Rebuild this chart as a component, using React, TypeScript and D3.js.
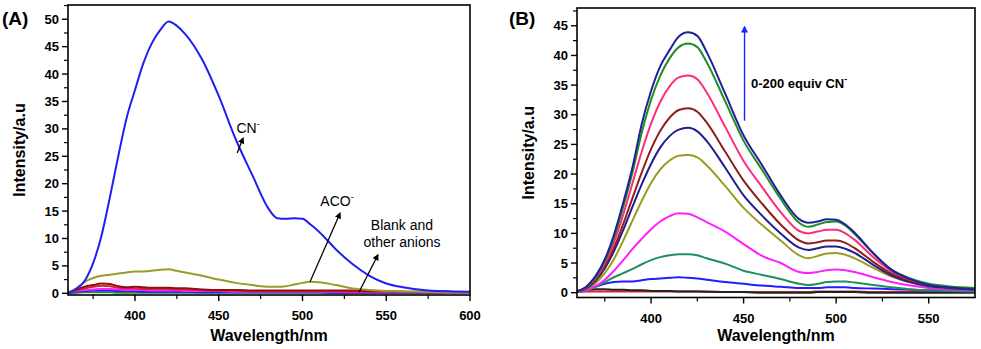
import React from "react";
import * as d3 from "d3";

// wavelength grids (nm)
const wavesA = [360, 365, 370, 375, 380, 385, 390, 395, 400, 405, 410, 415, 420, 425, 430, 440, 450, 460, 470, 480, 485, 490, 495, 500, 505, 510, 520, 530, 540, 550, 560, 575, 590, 600];
const wavesB = [360, 365, 370, 375, 380, 385, 390, 395, 400, 405, 410, 415, 420, 425, 430, 440, 450, 460, 470, 480, 485, 490, 495, 500, 505, 510, 520, 530, 540, 550, 560, 575];

// panel A: anion screening
const cnA = [0, 0.8, 2.3, 5.5, 10.5, 17.5, 25.0, 32.0, 37.1, 42.0, 45.6, 48.0, 49.6, 48.8, 47.3, 42.7, 36.0, 28.2, 21.6, 15.3, 13.7, 13.6, 13.7, 13.6, 12.5, 11.2, 8.0, 5.3, 3.2, 1.8, 1.1, 0.5, 0.35, 0.3];
const acoA = [0, 0.9, 2.1, 2.8, 3.2, 3.4, 3.6, 3.8, 4.0, 4.0, 4.1, 4.3, 4.4, 4.1, 3.8, 3.2, 2.5, 1.9, 1.5, 1.2, 1.2, 1.3, 1.6, 1.9, 2.1, 2.0, 1.5, 0.9, 0.6, 0.4, 0.3, 0.25, 0.15, 0.1];
const otherA1 = [0.2, 0.7, 1.2, 1.5, 1.8, 1.7, 1.3, 1.1, 1.2, 1.1, 1.0, 1.0, 1.0, 0.9, 0.9, 0.7, 0.6, 0.6, 0.5, 0.5, 0.5, 0.5, 0.5, 0.5, 0.5, 0.5, 0.5, 0.5, 0.4, 0.4, 0.3, 0.3, 0.25, 0.2];
const otherA2 = [0.1, 0.5, 0.9, 1.2, 1.4, 1.3, 1.0, 0.9, 0.9, 0.8, 0.8, 0.8, 0.8, 0.7, 0.7, 0.6, 0.5, 0.5, 0.4, 0.4, 0.4, 0.4, 0.4, 0.4, 0.4, 0.4, 0.4, 0.3, 0.3, 0.3, 0.3, 0.2, 0.2, 0.2];
const otherA3 = [0.1, 0.4, 0.6, 0.7, 0.8, 0.8, 0.7, 0.6, 0.6, 0.6, 0.5, 0.5, 0.5, 0.5, 0.4, 0.4, 0.4, 0.3, 0.3, 0.3, 0.3, 0.3, 0.3, 0.3, 0.3, 0.3, 0.3, 0.2, 0.2, 0.2, 0.2, 0.2, 0.1, 0.1];
const otherA4 = [0.1, 0.3, 0.4, 0.5, 0.5, 0.5, 0.4, 0.4, 0.4, 0.3, 0.3, 0.3, 0.3, 0.3, 0.3, 0.2, 0.2, 0.2, 0.2, 0.2, 0.2, 0.2, 0.2, 0.2, 0.2, 0.2, 0.1, 0.1, 0.1, 0.1, 0.1, 0.1, 0.1, 0.1];
const otherA5 = [0, 0.1, 0.2, 0.2, 0.2, 0.2, 0.1, 0.1, 0.1, 0.1, 0.1, 0.1, 0.1, 0.1, 0.1, 0.1, 0.1, 0.1, 0.1, 0.1, 0.1, 0.1, 0.1, 0.1, 0.1, 0.1, 0.05, 0.05, 0.05, 0.05, 0.05, 0.05, 0.05, 0.05];

// panel B: CN- titration, 0-200 equiv
const eq200 = [0.2, 1.0, 2.8, 5.6, 9.8, 15.2, 21.2, 28.5, 34.0, 38.2, 40.9, 43.2, 43.9, 43.3, 40.6, 33.6, 26.5, 21.5, 16.4, 12.4, 11.8, 12.0, 12.4, 12.3, 11.5, 10.1, 6.7, 3.8, 2.3, 1.3, 0.9, 0.55];
const eq175 = [0.2, 0.9, 2.6, 5.3, 9.3, 14.5, 20.3, 27.0, 32.5, 36.6, 39.5, 41.4, 42.0, 41.4, 38.9, 32.3, 25.6, 20.7, 15.8, 11.8, 11.1, 11.5, 11.9, 12.0, 11.3, 9.9, 6.6, 3.9, 2.4, 1.5, 1.1, 0.8];
const eq150 = [0.2, 0.9, 2.4, 4.9, 8.5, 13.2, 18.5, 23.8, 28.5, 32.2, 34.8, 36.3, 36.6, 36.0, 33.8, 28.0, 22.2, 17.8, 13.6, 10.4, 10.0, 10.3, 10.6, 10.6, 10.0, 8.9, 6.0, 3.6, 2.2, 1.4, 1.0, 0.6];
const eq125 = [0.2, 0.8, 2.2, 4.5, 7.6, 11.6, 16.0, 20.3, 24.2, 27.3, 29.5, 30.8, 31.1, 30.5, 28.7, 23.8, 18.9, 15.0, 11.5, 8.8, 8.3, 8.5, 8.8, 8.8, 8.4, 7.5, 5.2, 3.2, 2.0, 1.3, 0.9, 0.6];
const eq100 = [0.2, 0.7, 2.0, 4.1, 7.0, 10.6, 14.5, 18.3, 21.7, 24.5, 26.4, 27.5, 27.8, 27.2, 25.6, 21.1, 16.4, 13.0, 10.0, 7.6, 7.2, 7.5, 7.8, 7.8, 7.4, 6.7, 4.7, 2.9, 1.8, 1.1, 0.8, 0.5];
const eq75 = [0.2, 0.6, 1.6, 3.3, 5.7, 8.8, 12.2, 15.5, 18.5, 20.8, 22.3, 23.1, 23.2, 22.8, 21.5, 18.0, 14.3, 11.4, 8.8, 6.3, 5.8, 6.2, 6.6, 6.7, 6.4, 5.8, 4.2, 2.7, 1.7, 1.1, 0.8, 0.5];
const eq50 = [0.1, 0.4, 1.1, 2.2, 3.7, 5.5, 7.4, 9.1, 10.7, 12.0, 12.9, 13.4, 13.3, 12.7, 11.9, 10.3, 8.2, 6.2, 5.0, 3.5, 3.3, 3.5, 3.8, 3.9, 3.8, 3.5, 2.6, 1.8, 1.2, 0.8, 0.6, 0.4];
const eq25 = [0.1, 0.4, 1.0, 1.8, 2.6, 3.3, 4.0, 4.8, 5.5, 6.0, 6.3, 6.5, 6.5, 6.3, 5.8, 4.9, 3.7, 3.0, 2.3, 1.5, 1.3, 1.5, 1.8, 1.9, 1.9, 1.7, 1.3, 0.9, 0.6, 0.4, 0.3, 0.2];
const eq10 = [0.1, 0.5, 1.0, 1.5, 1.8, 1.9, 1.9, 2.1, 2.3, 2.4, 2.5, 2.6, 2.5, 2.4, 2.2, 1.8, 1.5, 1.2, 1.0, 0.8, 0.8, 0.8, 0.9, 0.9, 0.9, 0.8, 0.7, 0.6, 0.5, 0.4, 0.4, 0.3];
const eq5 = [0.3, 0.5, 0.6, 0.6, 0.5, 0.5, 0.4, 0.4, 0.3, 0.3, 0.3, 0.2, 0.2, 0.2, 0.2, 0.1, 0.1, 0.0, 0.0, 0.0, 0.0, 0.1, 0.1, 0.1, 0.1, 0.1, 0.0, 0.0, 0.0, 0.0, 0.0, 0.0];
const eq0 = [0.1, 0.2, 0.2, 0.2, 0.2, 0.2, 0.2, 0.2, 0.2, 0.2, 0.2, 0.2, 0.2, 0.2, 0.1, 0.1, 0.1, 0.1, 0.1, 0.1, 0.1, 0.2, 0.2, 0.2, 0.2, 0.2, 0.1, 0.1, 0.1, 0.1, 0.1, 0.1];

const seriesA = [
  { values: otherA5, color: "#1f8f3f" },
  { values: otherA4, color: "#1f1fff" },
  { values: otherA3, color: "#ff1fff" },
  { values: otherA2, color: "#e01f3f" },
  { values: otherA1, color: "#8f1010" },
  { values: acoA, color: "#9b9b2a" },
  { values: cnA, color: "#1f1ff5" },
];

const seriesB = [
  { values: eq0, color: "#e0202a" },
  { values: eq5, color: "#222222" },
  { values: eq10, color: "#1f1fff" },
  { values: eq25, color: "#1f8f5f" },
  { values: eq50, color: "#ff1fff" },
  { values: eq75, color: "#9b9b1f" },
  { values: eq100, color: "#1f1f8f" },
  { values: eq125, color: "#8f1f1f" },
  { values: eq150, color: "#ff2d78" },
  { values: eq175, color: "#1f8f1f" },
  { values: eq200, color: "#1f1f9f" },
];

const ticksA = [400, 450, 500, 550, 600];
const minorA = [375, 425, 475, 525, 575];
const yTicksA = [0, 5, 10, 15, 20, 25, 30, 35, 40, 45, 50];
const ticksB = [400, 450, 500, 550];
const minorB = [375, 425, 475, 525];
const yTicksB = [0, 5, 10, 15, 20, 25, 30, 35, 40, 45];

const FONT = "Arial, 'Liberation Sans', sans-serif";

function Panel({ id, left, right, top, bottom, xDomain, yDomain, waves, series, xTicks, xMinor, yTicks, tag, tagX, children }) {
  const x = d3.scaleLinear().domain(xDomain).range([left, right]);
  const y = d3.scaleLinear().domain(yDomain).range([bottom, top]);
  const line = d3
    .line<number>()
    .x((_, i) => x(waves[i]))
    .y((v) => y(v))
    .curve(d3.curveMonotoneX);
  const yMinor = yTicks.slice(0, -1).map((t) => t + 2.5);
  if (yDomain[1] > yTicks[yTicks.length - 1] + 2.5) yMinor.push(yTicks[yTicks.length - 1] + 2.5);

  return (
    <g>
      <defs>
        <clipPath id={`clip-${id}`}>
          <rect x={left} y={top} width={right - left} height={bottom - top} />
        </clipPath>
      </defs>
      <g clipPath={`url(#clip-${id})`}>
        {series.map((s, i) => (
          <path key={i} d={line(s.values) || ""} fill="none" stroke={s.color} strokeWidth={2} />
        ))}
      </g>
      <rect x={left} y={top} width={right - left} height={bottom - top} fill="none" stroke="#000" strokeWidth={1.6} />
      {/* x axis */}
      {xTicks.map((t) => (
        <g key={t}>
          <line x1={x(t)} x2={x(t)} y1={bottom} y2={bottom + 6} stroke="#000" strokeWidth={1.4} />
          <text x={x(t)} y={bottom + 25} textAnchor="middle" fontSize={13} fontWeight="bold" fontFamily={FONT}>
            {t}
          </text>
        </g>
      ))}
      {xMinor.map((t) => (
        <line key={t} x1={x(t)} x2={x(t)} y1={bottom} y2={bottom + 4} stroke="#000" strokeWidth={1.2} />
      ))}
      {/* y axis */}
      {yTicks.map((t) => (
        <g key={t}>
          <line x1={left - 6} x2={left} y1={y(t)} y2={y(t)} stroke="#000" strokeWidth={1.4} />
          <text x={left - 9} y={y(t) + 4.5} textAnchor="end" fontSize={13} fontWeight="bold" fontFamily={FONT}>
            {t}
          </text>
        </g>
      ))}
      {yMinor.map((t) => (
        <line key={t} x1={left - 4} x2={left} y1={y(t)} y2={y(t)} stroke="#000" strokeWidth={1.2} />
      ))}
      <text x={(left + right) / 2} y={341} textAnchor="middle" fontSize={16} fontWeight="bold" fontFamily={FONT}>
        Wavelength/nm
      </text>
      <text
        transform={`translate(${left - 43},${(top + bottom) / 2}) rotate(-90)`}
        textAnchor="middle"
        fontSize={16}
        fontWeight="bold"
        fontFamily={FONT}
      >
        Intensity/a.u
      </text>
      <text x={tagX} y={25} fontSize={19} fontWeight="bold" fontFamily={FONT}>
        {tag}
      </text>
      {children && children(x, y)}
    </g>
  );
}

export default function App() {
  return (
    <svg width={981} height={349} style={{ display: "block", position: "absolute", left: 0, top: 0, background: "#fff" }}>
      <defs>
        <marker id="headK" viewBox="0 0 10 10" refX="8" refY="5" markerWidth="5" markerHeight="5" orient="auto">
          <path d="M0,0 L10,5 L0,10 z" fill="#000" />
        </marker>
        <marker id="headB" viewBox="0 0 10 10" refX="8" refY="5" markerWidth="5" markerHeight="5" orient="auto">
          <path d="M0,0 L10,5 L0,10 z" fill="#1f1fff" />
        </marker>
      </defs>
      <Panel
        id="a"
        left={68}
        right={470}
        top={5}
        bottom={295}
        xDomain={[360, 600]}
        yDomain={[-0.31, 52.6]}
        waves={wavesA}
        series={seriesA}
        xTicks={ticksA}
        xMinor={minorA}
        yTicks={yTicksA}
        tag="(A)"
        tagX={2}
      >
        {(x, y) => (
          <g fontFamily={FONT} fontSize={14}>
            <text x={x(467.5)} y={y(29.2)} textAnchor="middle">
              CN<tspan fontSize={9} dy={-6}>-</tspan>
            </text>
            <line x1={x(461)} y1={y(25.6)} x2={x(464.5)} y2={y(28.3)} stroke="#000" strokeWidth={1.3} markerEnd="url(#headK)" />
            <text x={x(520.6)} y={y(15.9)} textAnchor="middle">
              ACO<tspan fontSize={9} dy={-6}>-</tspan>
            </text>
            <line x1={x(504.5)} y1={y(2.1)} x2={x(522.4)} y2={y(14.6)} stroke="#000" strokeWidth={1.3} markerEnd="url(#headK)" />
            <text x={x(559.4)} y={y(11.5)} textAnchor="middle">Blank and</text>
            <text x={x(559.4)} y={y(8.4)} textAnchor="middle">other anions</text>
            <line x1={x(533.7)} y1={y(0.2)} x2={x(545)} y2={y(7.0)} stroke="#000" strokeWidth={1.3} markerEnd="url(#headK)" />
          </g>
        )}
      </Panel>
      <Panel
        id="b"
        left={577}
        right={975}
        top={8}
        bottom={297.5}
        xDomain={[360, 575]}
        yDomain={[-0.81, 48.0]}
        waves={wavesB}
        series={seriesB}
        xTicks={ticksB}
        xMinor={minorB}
        yTicks={yTicksB}
        tag="(B)"
        tagX={509}
      >
        {(x, y) => (
          <g fontFamily={FONT}>
            <line x1={x(450.5)} y1={y(29)} x2={x(450.5)} y2={y(44.8)} stroke="#1f1fff" strokeWidth={1.4} markerEnd="url(#headB)" />
            <text x={x(454)} y={y(34.5)} fontSize={13} fontWeight="bold">
              0-200 equiv CN<tspan fontSize={9} dy={-6}>-</tspan>
            </text>
          </g>
        )}
      </Panel>
    </svg>
  );
}
